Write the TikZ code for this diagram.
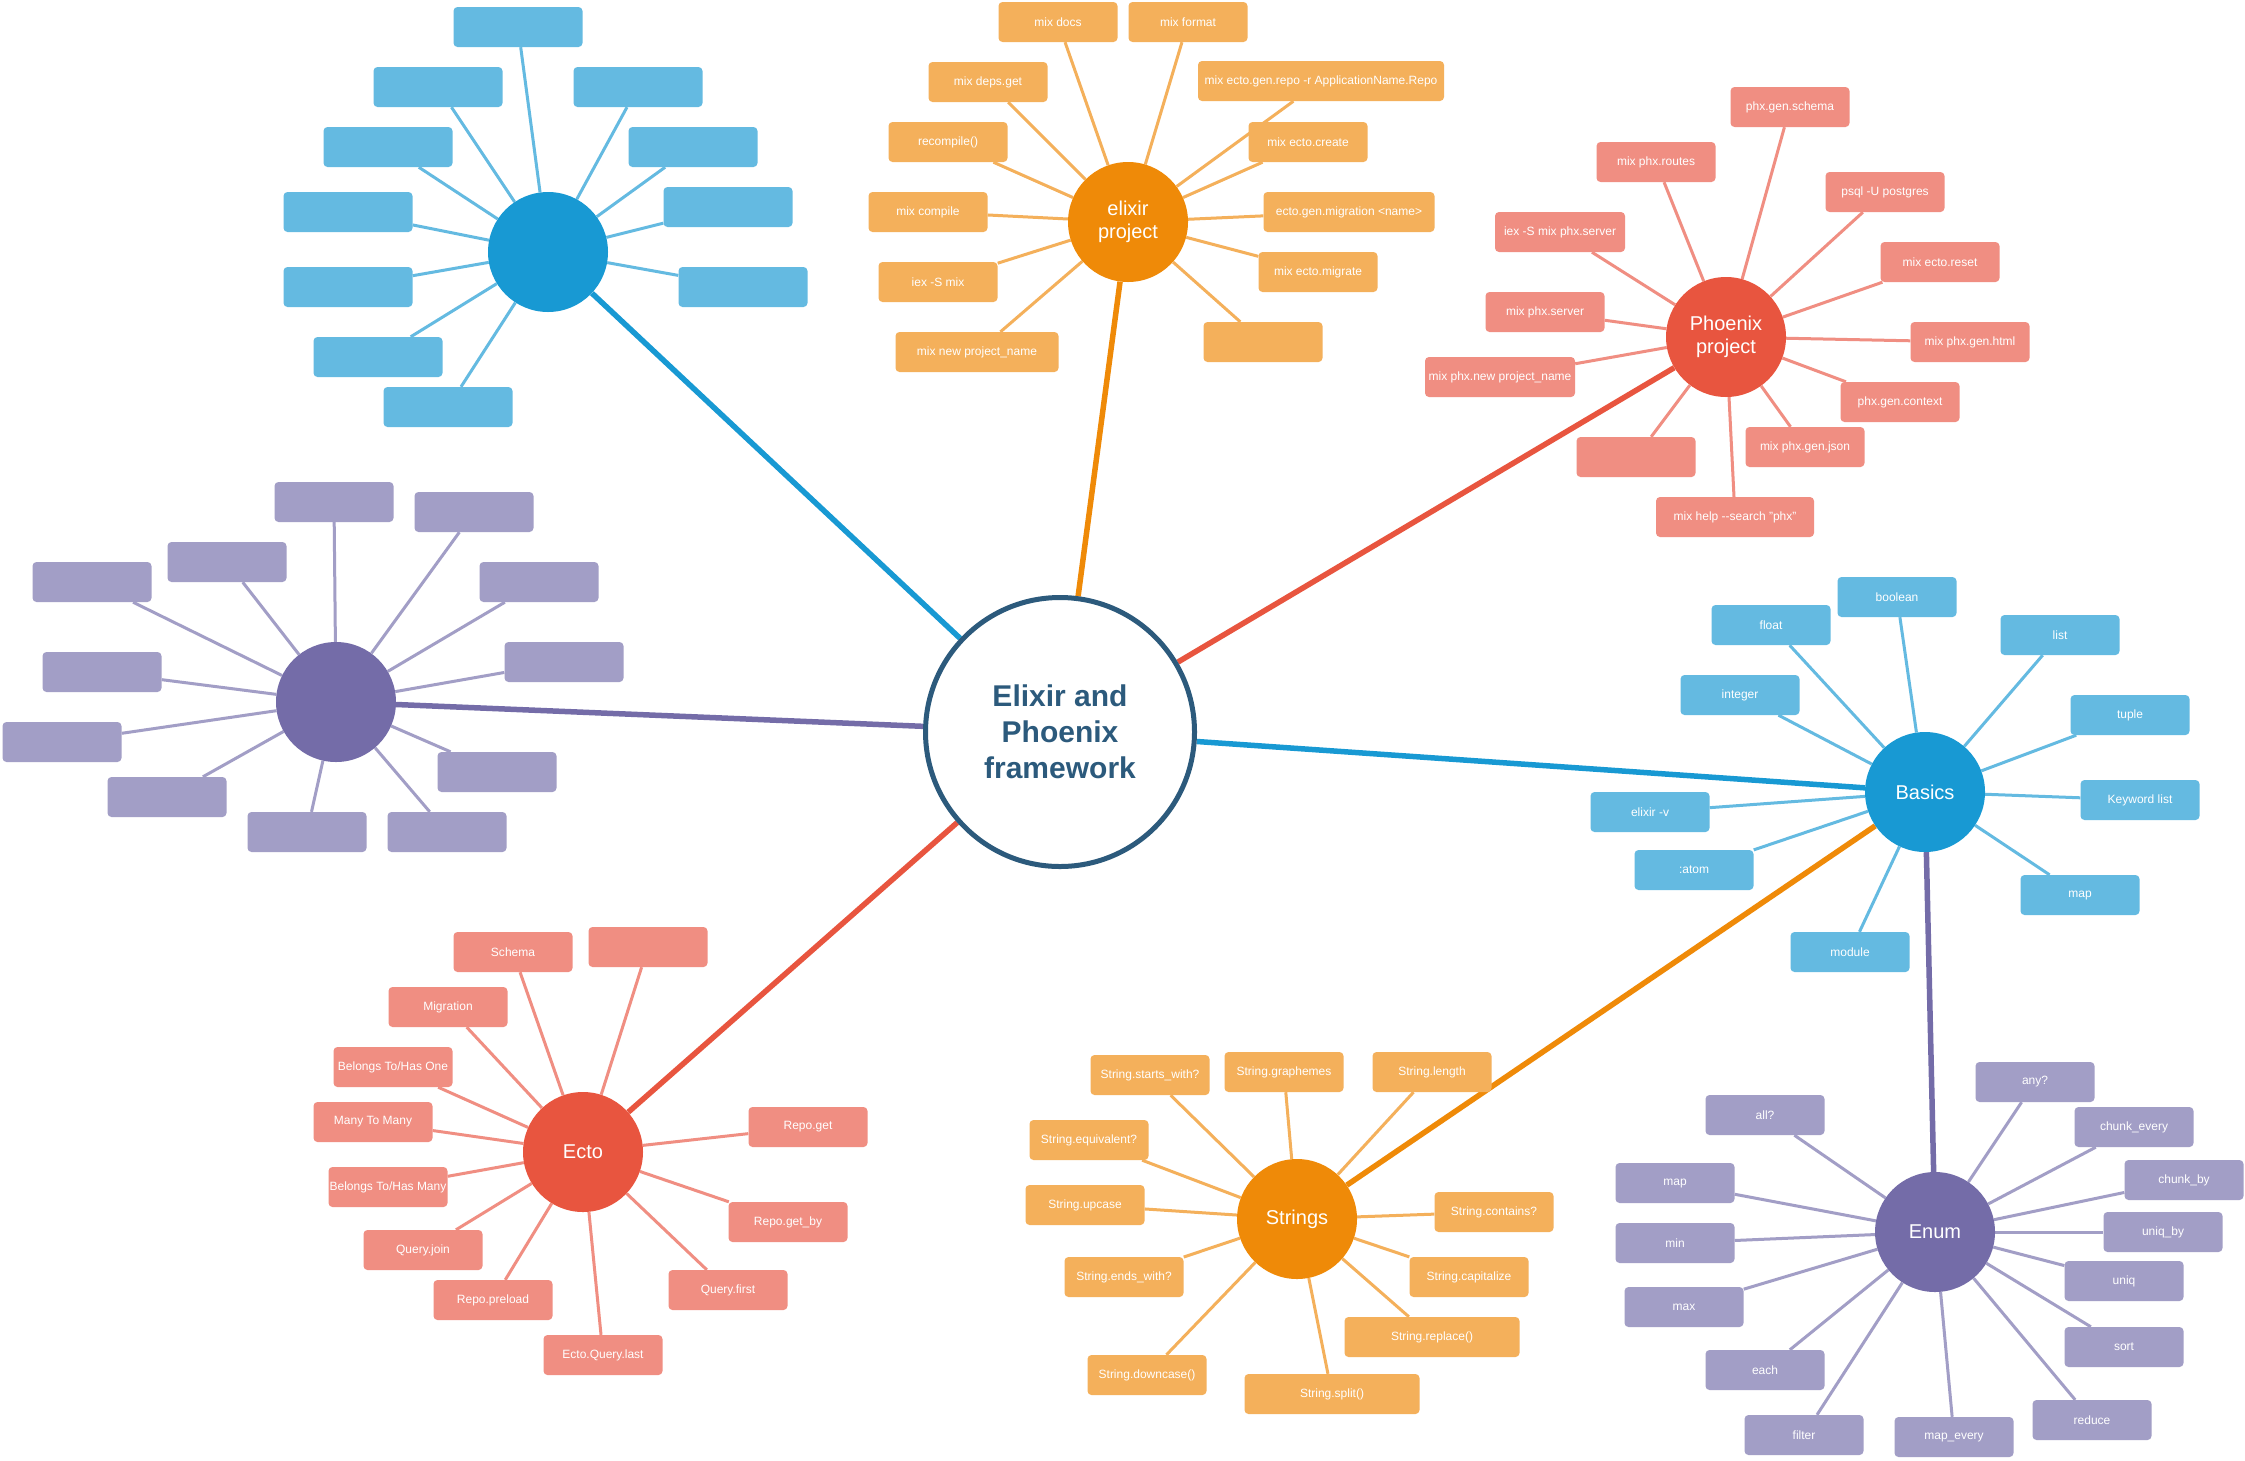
\documentclass[tikz,border=0pt]{standalone}
\usepackage{fontspec}
\setmainfont{Liberation Sans}
\usetikzlibrary{backgrounds}

\definecolor{hubblue}{HTML}{1899D3}
\definecolor{leafblue}{HTML}{64BAE1}
\definecolor{huborange}{HTML}{EF8A08}
\definecolor{leaforange}{HTML}{F4B05B}
\definecolor{hubred}{HTML}{E8553F}
\definecolor{leafred}{HTML}{F08E82}
\definecolor{hubpurple}{HTML}{746CA8}
\definecolor{leafpurple}{HTML}{A29EC6}
\definecolor{rootblue}{HTML}{2C5A7C}

\begin{document}
\begin{tikzpicture}[x=1pt,y=-1pt,
  root/.style = {circle,draw=rootblue,line width=5pt,fill=white,
        minimum size=269pt,inner sep=0pt,text=rootblue,align=center,
        font=\bfseries\fontsize{30}{36}\selectfont},
  hub/.style = {circle,minimum size=120pt,inner sep=0pt,text=white,
        align=center,font=\fontsize{20}{23}\selectfont},
  leaf/.style = {rectangle,rounded corners=4pt,minimum width=119pt,
        minimum height=40pt,inner xsep=1pt,text=white,
        font=\fontsize{12}{14}\selectfont},
  spoke/.style = {line width=3pt},
  trunk/.style = {line width=5.5pt}]
 \useasboundingbox (0,0) rectangle (2245,1460);
 \begin{pgfonlayer}{background}
  \fill[white] (0,0) rectangle (2245,1460);
 \end{pgfonlayer}

 % centre and hubs
 \node[root] (ct) at (1060,732) {Elixir and\\Phoenix\\framework};
 \node[hub,fill=hubblue]   (bl) at (548,252)   {};
 \node[hub,fill=huborange] (ep) at (1128,222)  {elixir\\project};
 \node[hub,fill=hubred]    (px) at (1726,337)  {Phoenix\\project};
 \node[hub,fill=hubpurple] (pu) at (336,702)   {};
 \node[hub,fill=hubblue]   (ba) at (1925,792)  {Basics};
 \node[hub,fill=hubred]    (ec) at (583,1152)  {Ecto};
 \node[hub,fill=huborange] (st) at (1297,1219) {Strings};
 \node[hub,fill=hubpurple] (en) at (1935,1232) {Enum};

 \begin{pgfonlayer}{background}
  \draw[trunk,hubblue]   (ct) -- (bl);
  \draw[trunk,huborange] (ct) -- (ep);
  \draw[trunk,hubred]    (ct) -- (px);
  \draw[trunk,hubpurple] (ct) -- (pu);
  \draw[trunk,hubblue]   (ct) -- (ba);
  \draw[trunk,hubred]    (ct) -- (ec);
  \draw[trunk,huborange] (ba) -- (st);
  \draw[trunk,hubpurple] (ba) -- (en);
 \end{pgfonlayer}

 % empty blue boxes
 \foreach \n/\x/\y in {1/518/27, 2/438/87, 3/638/87, 4/388/147, 5/693/147,
   6/348/212, 7/728/207, 8/348/287, 9/743/287, 10/378/357, 11/448/407}{
  \node[leaf,fill=leafblue,minimum width=129pt] (bl-\n) at (\x,\y) {};
  \begin{pgfonlayer}{background}
   \draw[spoke,leafblue] (bl) -- (bl-\n);
  \end{pgfonlayer}
 }

 % empty purple boxes
 \foreach \n/\x/\y in {1/334/502, 2/474/512, 3/227/562, 4/92/582, 5/539/582,
   6/102/672, 7/564/662, 8/62/742, 9/497/772, 10/167/797, 11/307/832, 12/447/832}{
  \node[leaf,fill=leafpurple] (pu-\n) at (\x,\y) {};
  \begin{pgfonlayer}{background}
   \draw[spoke,leafpurple] (pu) -- (pu-\n);
  \end{pgfonlayer}
 }

 % elixir project
 \foreach \n/\x/\y/\w/\t in {docs/1058/22/119/mix docs,
   format/1188/22/119/mix format, deps/988/82/119/mix deps.get,
   repo/1321/81/246/mix ecto.gen.repo -r ApplicationName.Repo,
   recomp/948/142/119/recompile(), create/1308/142/119/mix ecto.create,
   compile/928/212/119/mix compile,
   migration/1349/212/171/ecto.gen.migration <name>,
   iex/938/282/119/iex -S mix, migrate/1318/272/119/mix ecto.migrate,
   new/977/352/163/mix new project\_name, blank/1263/342/119/}{
  \node[leaf,fill=leaforange,minimum width=\w pt] (ep-\n) at (\x,\y) {\t};
  \begin{pgfonlayer}{background}
   \draw[spoke,leaforange] (ep) -- (ep-\n);
  \end{pgfonlayer}
 }

 % Phoenix project
 \foreach \n/\x/\y/\w/\t in {schema/1790/107/119/phx.gen.schema,
   routes/1656/162/119/mix phx.routes, psql/1885/192/119/psql -U postgres,
   iexs/1560/232/130/iex -S mix phx.server, reset/1940/262/119/mix ecto.reset,
   server/1545/312/119/mix phx.server, html/1970/342/119/mix phx.gen.html,
   new/1500/377/150/mix phx.new project\_name,
   context/1900/402/119/phx.gen.context, blank/1636/457/119/,
   json/1805/447/119/mix phx.gen.json,
   help/1735/517/158/mix help -{}-search "phx"}{
  \node[leaf,fill=leafred,minimum width=\w pt] (px-\n) at (\x,\y) {\t};
  \begin{pgfonlayer}{background}
   \draw[spoke,leafred] (px) -- (px-\n);
  \end{pgfonlayer}
 }

 % Basics
 \foreach \n/\x/\y/\t in {boolean/1897/597/boolean, float/1771/625/float,
   list/2060/635/list, integer/1740/695/integer, tuple/2130/715/tuple,
   version/1650/812/elixir -v, keyword/2140/800/Keyword list,
   atom/1694/870/:atom, map/2080/895/map, module/1850/952/module}{
  \node[leaf,fill=leafblue] (ba-\n) at (\x,\y) {\t};
  \begin{pgfonlayer}{background}
   \draw[spoke,leafblue] (ba) -- (ba-\n);
  \end{pgfonlayer}
 }

 % Enum
 \foreach \n/\x/\y/\t in {any/2035/1082/any?, all/1765/1115/all?,
   chevery/2134/1127/chunk\_every, map/1675/1183/map,
   chby/2184/1180/chunk\_by, uniqby/2163/1232/uniq\_by, min/1675/1243/min,
   uniq/2124/1281/uniq, max/1684/1307/max, sort/2124/1347/sort,
   each/1765/1370/each, reduce/2092/1420/reduce, filter/1804/1435/filter,
   mapevery/1954/1437/map\_every}{
  \node[leaf,fill=leafpurple] (en-\n) at (\x,\y) {\t};
  \begin{pgfonlayer}{background}
   \draw[spoke,leafpurple] (en) -- (en-\n);
  \end{pgfonlayer}
 }

 % Strings
 \foreach \n/\x/\y/\w/\t in {starts/1150/1075/119/String.starts\_with?,
   graph/1284/1072/119/String.graphemes, length/1432/1072/119/String.length,
   equiv/1089/1140/119/String.equivalent?, upcase/1085/1205/119/String.upcase,
   contains/1494/1212/119/String.contains?,
   ends/1124/1277/119/String.ends\_with?,
   capital/1469/1277/119/String.capitalize,
   replace/1432/1337/175/String.replace(),
   downcase/1147/1375/119/String.downcase(),
   split/1332/1394/175/String.split()}{
  \node[leaf,fill=leaforange,minimum width=\w pt] (st-\n) at (\x,\y) {\t};
  \begin{pgfonlayer}{background}
   \draw[spoke,leaforange] (st) -- (st-\n);
  \end{pgfonlayer}
 }

 % Ecto
 \foreach \n/\x/\y/\t in {schema/513/952/Schema, blank/648/947/,
   migration/448/1007/Migration, hasone/393/1067/{Belongs To/Has One},
   many/373/1122/Many To Many, get/808/1127/Repo.get,
   hasmany/388/1187/{Belongs To/Has Many}, getby/788/1222/Repo.get\_by,
   join/423/1250/Query.join, first/728/1290/Query.first,
   preload/493/1300/Repo.preload, last/603/1355/Ecto.Query.last}{
  \node[leaf,fill=leafred] (ec-\n) at (\x,\y) {\t};
  \begin{pgfonlayer}{background}
   \draw[spoke,leafred] (ec) -- (ec-\n);
  \end{pgfonlayer}
 }
\end{tikzpicture}
\end{document}
